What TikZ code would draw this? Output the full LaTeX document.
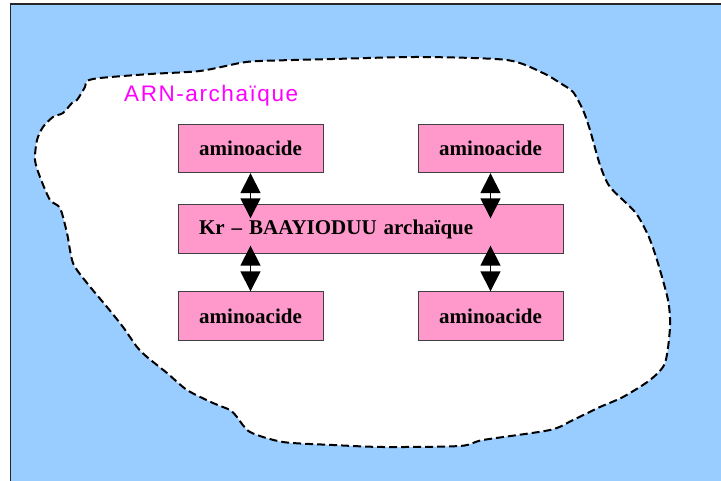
\documentclass[tikz,border=0pt]{standalone}
\usepackage{fontspec}
\setmainfont{Liberation Serif}
\newfontfamily\arnfont[LetterSpace=7]{Liberation Sans}
\usetikzlibrary{arrows.meta}
\definecolor{bgblue}{HTML}{99CCFF}
\definecolor{boxpink}{HTML}{FF99CC}
\definecolor{arnmag}{HTML}{FF00FF}
\definecolor{boxline}{HTML}{404040}
\tikzset{
  aabox/.style={draw=boxline, line width=0.9pt, fill=boxpink, inner sep=0pt,
    minimum width=145pt, minimum height=48.5pt,
    font=\fontsize{21}{24}\selectfont\bfseries},
  dblarrow/.style={line width=1.6pt, {Triangle[width=20pt,length=20pt]}-{Triangle[width=20pt,length=20pt]}},
  blob/.style={draw=black, fill=white, line width=2pt, dash pattern=on 8pt off 4pt}
}
\begin{document}
\begin{tikzpicture}[x=1pt,y=-1pt]
\useasboundingbox (0,0) rectangle (721,481);
% background
\fill[bgblue] (10.5,4) rectangle (722,482);
\draw[line width=1.5pt, black!85] (10.5,482) -- (10.5,4) -- (722,4);
% blob
\draw[blob] plot[smooth cycle, tension=0.45] coordinates {
 (87,81) (100,78) (150,74) (200,71) (240,63) (260,61) (333,59) (420,57) (507,60)
 (543,73) (560,83) (573,92) (583,110) (590,130) (600,165) (610,187) (635,212)
 (648,235) (657,260) (668,300) (670,327) (665,363) (650,380) (623,397) (600,407)
 (573,420) (550,430) (483,440) (460,446) (383,447) (333,445) (283,442) (250,432)
 (237,417) (230,410) (213,403) (187,390) (167,373) (147,357) (137,347) (123,327)
 (107,307) (87,283) (73,263) (67,233) (60,208) (50,200) (40,177) (35,160) (37,140)
 (43,127) (53,117) (63,113) (72,103) (77,100) (85,87)};
% label
\node[anchor=base west, inner sep=0pt, text=arnmag, font=\arnfont\fontsize{22.5}{26}\selectfont] (arn) at (124,101.5) {ARN-archaïque};
% boxes
\node[aabox] (tl) at (250.5,148.5) {aminoacide};
\node[aabox] (tr) at (490.5,148.5) {aminoacide};
\node[aabox] (bl) at (250.5,316) {aminoacide};
\node[aabox] (br) at (490.5,316) {aminoacide};
\node[aabox, minimum width=385pt, text width=343pt, inner xsep=21pt, align=left] (mid) at (370.5,229) {Kr – BAAYIODUU archaïque};
% arrow end points
\coordinate (la) at ([yshift=-14pt]tl.south |- mid.north);
\coordinate (ra) at ([yshift=-14pt]tr.south |- mid.north);
\coordinate (lb) at ([yshift=8pt]bl.north |- mid.south);
\coordinate (rb) at ([yshift=8pt]br.north |- mid.south);
\draw[dblarrow] (tl.south) -- (la);
\draw[dblarrow] (tr.south) -- (ra);
\draw[dblarrow] (lb) -- (bl.north);
\draw[dblarrow] (rb) -- (br.north);
\end{tikzpicture}
\end{document}
